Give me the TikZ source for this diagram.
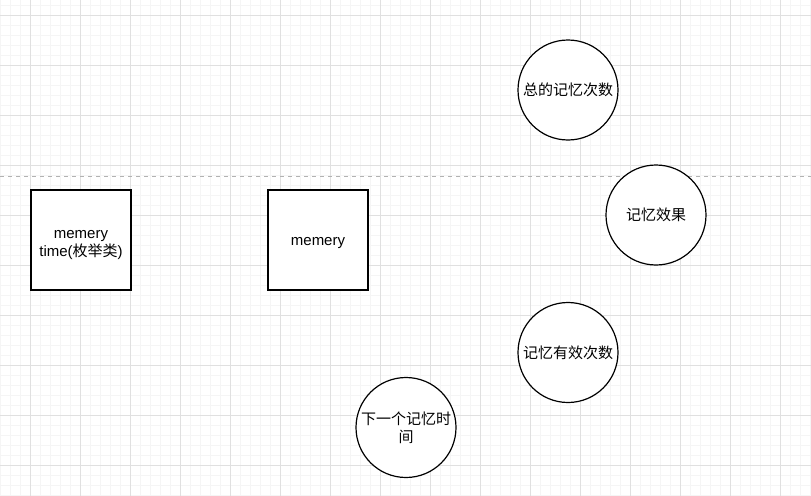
\documentclass[tikz,border=0pt]{standalone}
\usepackage{fontspec}
\setmainfont{Liberation Sans}
\newfontfamily\cjk{Noto Sans CJK SC}

\tikzset{
    box/.style={draw, line width=0.9pt, fill=white, minimum size=75pt, inner sep=0pt, align=center, font=\fontsize{11.25}{13.5}\selectfont},
    ring/.style={draw, circle, line width=0.9pt, fill=white, minimum size=75pt, inner sep=0pt, align=center, font=\fontsize{11.25}{13.5}\selectfont}
}

\begin{document}
\begin{tikzpicture}[x=0.75pt, y=-0.75pt]
    \useasboundingbox (0,0) rectangle (811,496);
    \fill[white] (0,0) rectangle (811,496);

    % grid
    \foreach \x in {0,10,...,810} \draw[line width=0.5pt, black!4] (\x,0) -- (\x,496);
    \foreach \y in {5,15,...,495} \draw[line width=0.5pt, black!4] (0,\y) -- (811,\y);
    \foreach \x in {30,80,...,780} \draw[line width=0.6pt, black!12] (\x,0) -- (\x,496);
    \foreach \y in {15,65,...,465} \draw[line width=0.6pt, black!12] (0,\y) -- (811,\y);

    \draw[line width=0.75pt, black!30, dash pattern=on 3pt off 3pt] (0,176) -- (811,176);

    \node[box] (enumbox) at (81,240) {\rule{0pt}{14pt}memery\\time({\cjk 枚举类})};
    \node[box] (memery) at (318,240) {\rule{0pt}{11pt}memery};

    \node[ring] (total) at (568,90) {\cjk 总的记忆次数};
    \node[ring] (effect) at (656,215) {\cjk 记忆效果};
    \node[ring] (valid) at (568,352.5) {\cjk 记忆有效次数};
    \node[ring] (next) at (406,427.5) {\cjk 下一个记忆时\\\cjk 间};
\end{tikzpicture}
\end{document}
